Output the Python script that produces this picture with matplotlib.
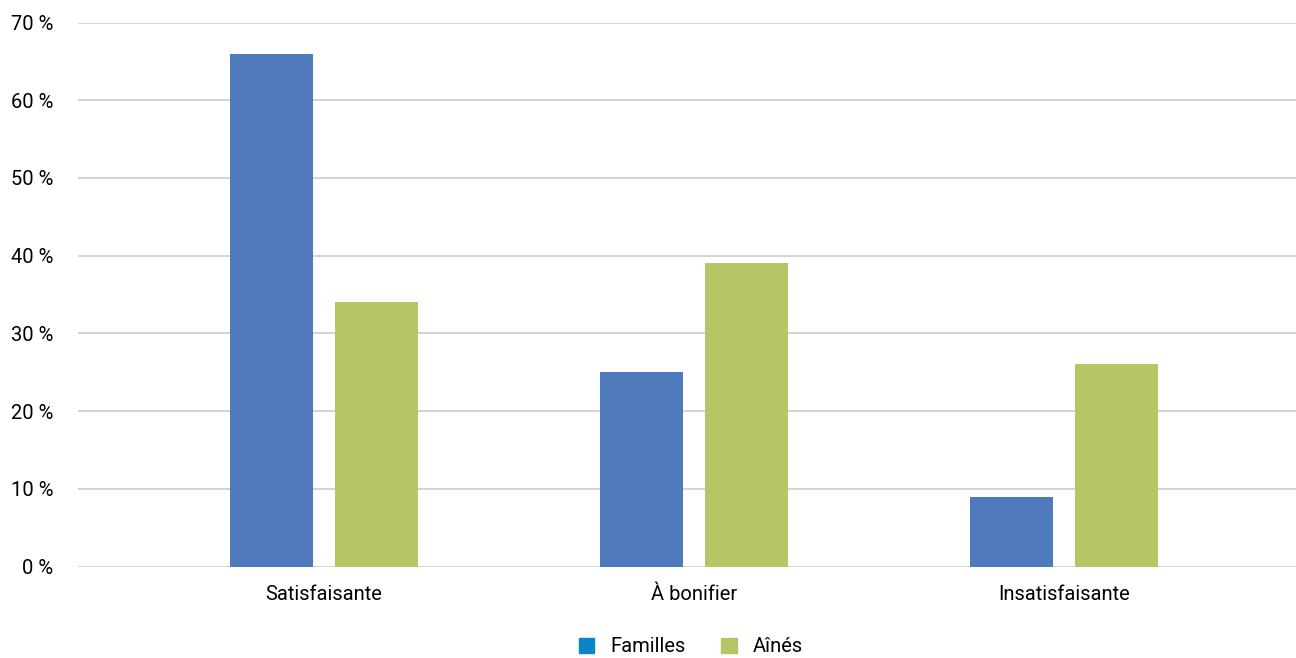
import matplotlib.pyplot as plt
import numpy as np
from matplotlib.patches import Patch

# Données
categories = ['Satisfaisante', 'À bonifier', 'Insatisfaisante']
familles = [66, 25, 9]
aines = [34, 39, 26]
yticks = [0, 10, 20, 30, 40, 50, 60, 70]
ytick_labels = ['0 %', '10 %', '20 %', '30 %', '40 %', '50 %', '60 %', '70 %']

plt.rcParams['font.family'] = ['Roboto', 'DejaVu Sans']

c_fam = '#4f7bbd'
c_ain = '#b6c664'

fig = plt.figure(figsize=(12.96, 6.58), dpi=100)
ax = fig.add_axes([0.0602, 0.139, 0.9398, 0.8268])

x = np.arange(len(categories))
w = 0.224
ax.bar(x - 0.142, familles, w, color=c_fam, zorder=3)
ax.bar(x + 0.142, aines, w, color=c_ain, zorder=3)

ax.set_xlim(-0.665, 2.627)
ax.set_ylim(0, 70)
ax.set_yticks(yticks)
ax.set_yticklabels(ytick_labels, fontsize=14.5)
ax.set_xticks(x)
ax.set_xticklabels(categories, fontsize=14.5)
ax.tick_params(axis='y', length=0, pad=18)
ax.tick_params(axis='x', length=0, pad=13)
ax.grid(axis='y', color='#cccccc', linewidth=1.2, zorder=0)
for s in ax.spines.values():
    s.set_visible(False)

handles = [Patch(color='#0b84c8', label='Familles'), Patch(color='#b5c566', label='Aînés')]
fig.legend(handles=handles, loc='center', bbox_to_anchor=(0.533, 0.017), ncol=2,
           frameon=False, fontsize=14.5, handlelength=0.75, handleheight=0.75,
           handletextpad=0.8, columnspacing=1.8)

fig.savefig('out.png', dpi=100)
